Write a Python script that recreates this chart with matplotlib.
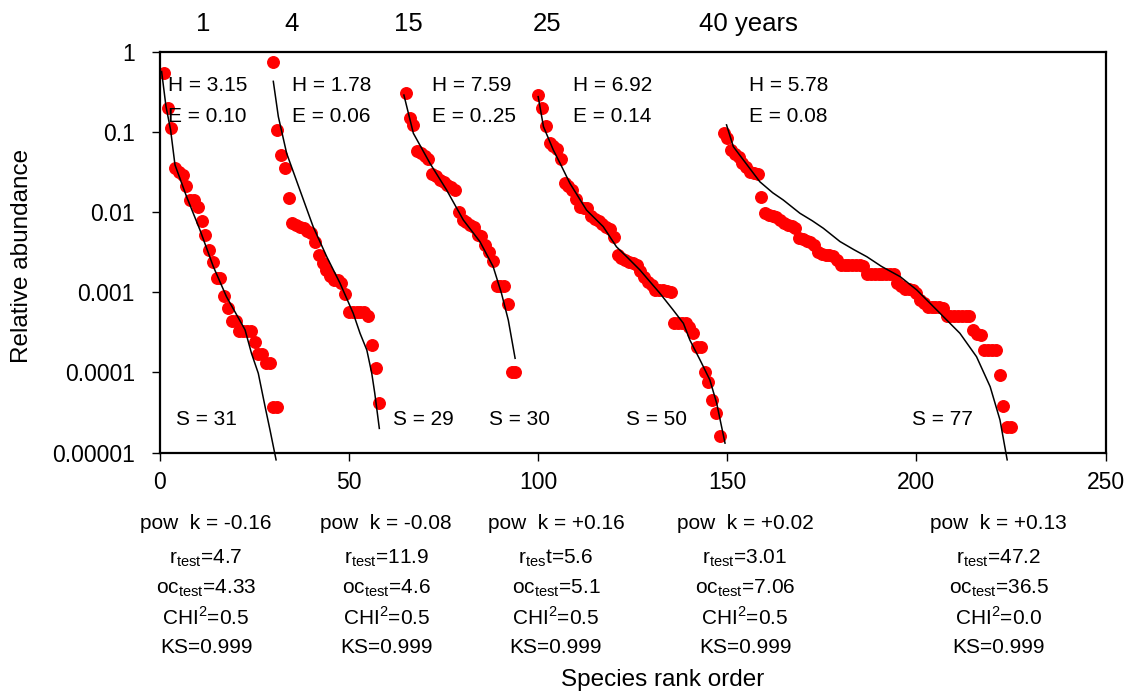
import matplotlib
matplotlib.use("Agg")
import matplotlib.pyplot as plt

plt.rcParams['font.family'] = ['Liberation Sans', 'DejaVu Sans']
plt.rcParams['mathtext.fontset'] = 'custom'
plt.rcParams['mathtext.rm'] = 'Liberation Sans'

# ---- data ----
# first rank of every sample (samples are laid side by side on the x axis)
rank_start = [1, 30, 65, 100, 149]
ages = ["1", "4", "15", "25", "40 years"]

abund_1yr = [0.55, 0.198, 0.111, 0.036, 0.032, 0.029, 0.0214, 0.0142, 0.0142, 0.0117,
             0.0077, 0.0052, 0.0034, 0.0024, 0.0015, 0.0015, 0.0009, 0.00063, 0.00044, 0.00044,
             0.00033, 0.00033, 0.00033, 0.00033, 0.00024, 0.00017, 0.00017, 0.00013, 0.00013,
             0.000037, 0.000037]
abund_4yr = [0.757, 0.106, 0.052, 0.036, 0.0149, 0.0074, 0.0069, 0.0066, 0.0063, 0.0058,
             0.0055, 0.0042, 0.0029, 0.0023, 0.0019, 0.00158, 0.00142, 0.00142, 0.0013, 0.00095,
             0.00057, 0.00057, 0.00057, 0.00057, 0.00057, 0.0005, 0.00022, 0.000115, 0.000042]
abund_15yr = [0.305, 0.149, 0.123, 0.0586, 0.0543, 0.0503, 0.0457, 0.030, 0.0283, 0.0252,
              0.0235, 0.0219, 0.0205, 0.019, 0.0101, 0.008, 0.0076, 0.0070, 0.0066, 0.0052,
              0.0050, 0.0039, 0.0032, 0.00246, 0.0012, 0.0012, 0.0012, 0.00071, 0.000102, 0.000102]
abund_25yr = [0.29, 0.20, 0.119, 0.074, 0.067, 0.061, 0.046, 0.0233, 0.0212, 0.0189,
              0.0145, 0.0117, 0.0114, 0.0112, 0.009, 0.0082, 0.0078, 0.0072, 0.0066, 0.0061,
              0.0049, 0.0029, 0.00265, 0.00253, 0.0024, 0.0023, 0.0022, 0.00186, 0.00157, 0.00136,
              0.00123, 0.00107, 0.00107, 0.00107, 0.00105, 0.0010, 0.00041, 0.00041, 0.00041, 0.00041,
              0.00037, 0.00031, 0.000206, 0.000206, 0.000102, 0.0000766, 0.0000452, 0.0000309, 0.0000159]
abund_40yr = [0.098, 0.084, 0.060, 0.054, 0.049, 0.041, 0.037, 0.032, 0.031, 0.030,
              0.0153, 0.0099, 0.0092, 0.009, 0.0088, 0.008, 0.0073, 0.007, 0.0067, 0.0063,
              0.0048, 0.0046, 0.0044, 0.0042, 0.0039, 0.0032, 0.0030, 0.0029, 0.0029, 0.0028,
              0.0025, 0.0022, 0.0022, 0.0022, 0.0022, 0.0022, 0.0022, 0.0021, 0.0017, 0.0017,
              0.0017, 0.0017, 0.0017, 0.0017, 0.0017, 0.0017, 0.0013, 0.0012, 0.0011, 0.0011,
              0.00107, 0.00097, 0.0008, 0.00073, 0.00066, 0.00066, 0.00066, 0.00066, 0.00063, 0.0005,
              0.0005, 0.0005, 0.0005, 0.0005, 0.0005, 0.0005, 0.00034, 0.0003, 0.00029, 0.00019,
              0.00019, 0.00019, 0.00019, 0.000093, 0.000038, 0.000021, 0.000021]
abundances = [abund_1yr, abund_4yr, abund_15yr, abund_25yr, abund_40yr]

# fitted curves (black lines)
fit_x_1 = [0.44, 1.59, 2.82, 3.97, 7.05, 10.58, 14.1, 17.6, 22.5, 24.2, 26.0, 27.8, 29.1, 30.7]
fit_y_1 = [0.57, 0.21, 0.106, 0.039, 0.0156, 0.006, 0.0021, 0.00088, 0.00034, 0.000173,
           0.0000975, 0.0000373, 0.0000191, 0.0000081]
fit_x_2 = [29.97, 31.3, 33.5, 37.0, 40.5, 44.1, 47.6, 51.1, 52.9, 54.7, 56.0, 56.8, 58.0]
fit_y_2 = [0.43, 0.156, 0.0543, 0.0189, 0.0066, 0.00278, 0.0013, 0.000547, 0.000308, 0.00019,
           0.0000975, 0.0000548, 0.00002]
fit_x_3 = [64.5, 67.0, 71.4, 75.8, 80.2, 84.6, 88.1, 90.3, 92.1, 93.2, 93.9]
fit_y_3 = [0.29, 0.0966, 0.0407, 0.0189, 0.008, 0.00429, 0.00209, 0.00097, 0.00045, 0.00023, 0.00015]
fit_x_4 = [100.0, 101.4, 104.0, 105.8, 108.4, 112.8, 117.2, 120.7, 123.4, 126.9, 132.2, 135.7,
           138.4, 140.1, 142.8, 145.4, 147.2, 149.4]
fit_y_4 = [0.277, 0.117, 0.0598, 0.0407, 0.0229, 0.0106, 0.0066, 0.0037, 0.00278, 0.0019, 0.00097,
           0.0006, 0.00041, 0.000254, 0.000143, 0.0000804, 0.0000411, 0.0000131]
fit_x_5 = [149.8, 151.6, 158.6, 162.0, 164.8, 169.2, 172.5, 175.4, 179.8, 183.5, 186.9, 190.8,
           195.7, 200.1, 206.2, 211.5, 215.9, 219.5, 222.1, 224.0]
fit_y_5 = [0.123, 0.0658, 0.024, 0.0175, 0.0142, 0.0097, 0.0078, 0.0063, 0.0043, 0.0034, 0.00278,
           0.0021, 0.00157, 0.00107, 0.00055, 0.000308, 0.000157, 0.0000664, 0.0000255, 0.0000081]
fits = [(fit_x_1, fit_y_1), (fit_x_2, fit_y_2), (fit_x_3, fit_y_3), (fit_x_4, fit_y_4), (fit_x_5, fit_y_5)]

H_vals = ["3.15", "1.78", "7.59", "6.92", "5.78"]
E_vals = ["0.10", "0.06", "0..25", "0.14", "0.08"]
S_vals = ["31", "29", "30", "50", "77"]
pow_k = ["-0.16", "-0.08", "+0.16", "+0.02", "+0.13"]
r_test = ["4.7", "11.9", "5.6", "3.01", "47.2"]
oc_test = ["4.33", "4.6", "5.1", "7.06", "36.5"]
chi2 = ["0.5", "0.5", "0.5", "0.5", "0.0"]
ks = ["0.999", "0.999", "0.999", "0.999", "0.999"]

# ---- text anchor positions (data x) ----
age_x = [11.5, 34.9, 65.8, 102.3, 155.5]
he_x = [2.1, 34.8, 71.8, 109.2, 155.7]
s_x = [4.2, 61.6, 87.0, 123.2, 198.8]
stat_x = [12.2, 59.8, 104.7, 154.7, 221.8]

fig = plt.figure(figsize=(11.32, 6.95), dpi=100)
ax = fig.add_axes([0.1413, 0.3489, 0.8353, 0.5763])

for i in range(5):
    vals = abundances[i]
    ranks = list(range(rank_start[i], rank_start[i] + len(vals)))
    ax.plot(ranks, vals, 'o', color='red', ms=8.3, mec='red', zorder=2)
    fx, fy = fits[i]
    ax.plot(fx, fy, '-', color='black', lw=1.1, zorder=3, clip_on=False)

ax.set_yscale('log')
ax.set_xlim(0, 250)
ax.set_ylim(1e-5, 1)
ax.set_yticks([1, 0.1, 0.01, 0.001, 0.0001, 0.00001])
ax.set_yticklabels(["1", "0.1", "0.01", "0.001", "0.0001", "0.00001"])
ax.minorticks_off()
ax.set_xticks([0, 50, 100, 150, 200, 250])
ax.tick_params(axis='y', direction='out', length=6, width=1, labelsize=16.5, pad=12)
ax.tick_params(axis='x', direction='out', length=6, width=1, labelsize=16.5, pad=7)
for sp in ax.spines.values():
    sp.set_linewidth(1.6)

fig.text(22 / 1132, 1 - 256 / 695, "Relative abundance", rotation=90,
         ha='center', va='center', fontsize=17.5)
fig.text(663 / 1132, 1 - 680 / 695, "Species rank order", ha='center', va='center', fontsize=17.5)

xt = ax.get_xaxis_transform()
line_y = [-0.176, -0.263, -0.338, -0.413, -0.488]
for i in range(5):
    # sample ages above the frame
    ax.text(age_x[i], 1.07, ages[i], transform=xt, ha='center', va='center', fontsize=18.5)
    # diversity / evenness
    ax.text(he_x[i], 0.387, "H = " + H_vals[i], ha='left', va='center', fontsize=15)
    ax.text(he_x[i], 0.157, "E = " + E_vals[i], ha='left', va='center', fontsize=15)
    ax.text(s_x[i], 2.55e-5, "S = " + S_vals[i], ha='left', va='center', fontsize=15)
    # fit statistics below the axis
    ax.text(stat_x[i], line_y[0], "pow  k = " + pow_k[i], transform=xt, ha='center', va='center', fontsize=15)
    if i == 2:
        r_lab = r"r$_\mathregular{tes}$t=" + r_test[i]
    else:
        r_lab = r"r$_\mathregular{test}$=" + r_test[i]
    ax.text(stat_x[i], line_y[1], r_lab, transform=xt, ha='center', va='center', fontsize=15)
    ax.text(stat_x[i], line_y[2], r"oc$_\mathregular{test}$=" + oc_test[i], transform=xt,
            ha='center', va='center', fontsize=15)
    ax.text(stat_x[i], line_y[3], r"CHI$^\mathregular{2}$=" + chi2[i], transform=xt,
            ha='center', va='center', fontsize=15)
    ax.text(stat_x[i], line_y[4], "KS=" + ks[i], transform=xt, ha='center', va='center', fontsize=15)

fig.savefig("out.png", dpi=100)
